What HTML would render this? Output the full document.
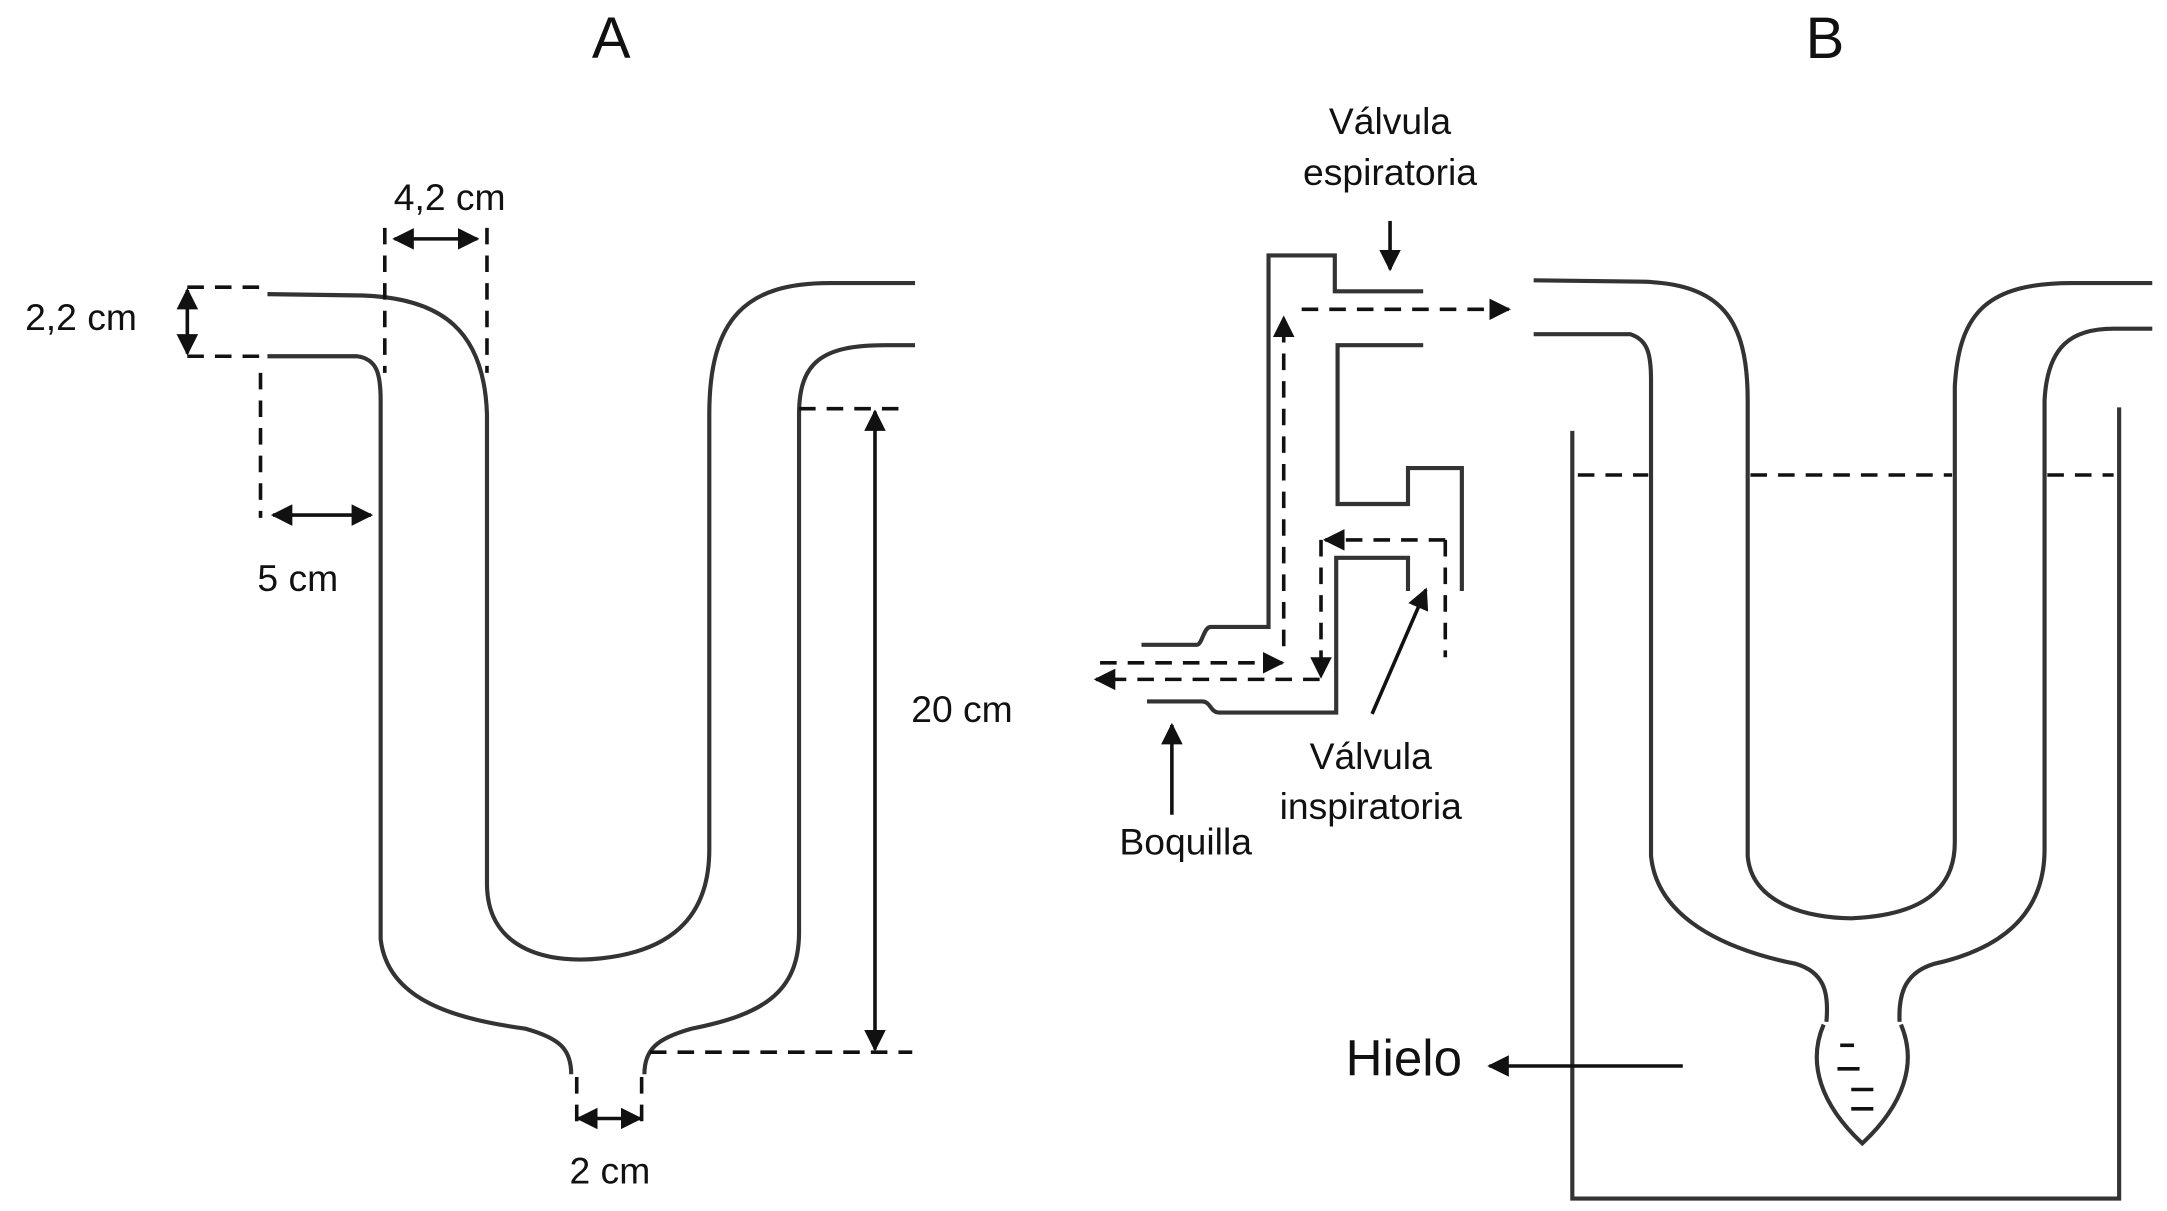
<!DOCTYPE html>
<html><head><meta charset="utf-8"><style>html,body{margin:0;padding:0;background:#fff}svg{display:block}</style></head>
<body>
<svg width="2167" height="1211" viewBox="0 0 1568 877" xmlns="http://www.w3.org/2000/svg" font-family="Liberation Sans, sans-serif">
<defs>
<marker id="ah" viewBox="0 0 10 10" refX="9" refY="5" markerWidth="6" markerHeight="6" orient="auto-start-reverse"><path d="M0,0 L10,5 L0,10 z" fill="#111"/></marker>
</defs>
<g fill="none" stroke="#333" stroke-width="3">
<path d="M193,213 L262,214 C320,216 350,240 352,300 L352,640 C352,690 400,698 435,694 C490,688 513,660 513,615 L513,300 C513,230 540,205 600,205 L662,205"/>
<path d="M193,258 L258,258 C272,260 275,270 275,290 L275,680 C280,725 330,738 380,745 C405,752 413,760 413,778"/>
<path d="M466,778 C466,760 475,752 500,745 C550,735 578,720 578,675 L578,300 C578,262 595,250 640,250 L662,250"/>
<path d="M1110,203 L1190,204 C1245,206 1265,230 1265,290 L1265,620 C1268,655 1310,665 1340,665 C1390,663 1415,645 1415,610 L1415,280 C1418,225 1440,205 1500,205 L1558,205"/>
<path d="M1110,242 L1180,242 C1192,246 1195,255 1195,275 L1195,620 C1200,670 1260,690 1300,698 C1320,704 1324,718 1322,740"/>
<path d="M1375,740 C1374,718 1380,704 1400,698 C1445,688 1480,665 1480,615 L1480,290 C1482,250 1500,238 1530,238 L1558,238"/>
<path d="M1320,742 C1308,770 1318,800 1348,828 C1378,800 1388,770 1376,742"/>
<path d="M1138,312 L1138,868 L1534,868 L1534,295"/>
<path d="M826,467 L866,467 C870,467 871,454 876,454 L918,454 L918,185 L966,185 L966,211 L1030,211"/>
<path d="M1030,250 L968,250 L968,365 L1019,365 L1019,339 L1058,339 L1058,428"/>
<path d="M830,508 L870,508 C876,508 876,516 882,516 L967,516 L967,404 L1019,404 L1019,428"/>
</g>
<g stroke="#111" stroke-width="2.6" fill="none" stroke-dasharray="12,8">
<line x1="135" y1="208" x2="193" y2="208"/><line x1="135" y1="258" x2="193" y2="258"/>
<line x1="278" y1="165" x2="278" y2="270"/><line x1="352" y1="165" x2="352" y2="270"/>
<line x1="188" y1="270" x2="188" y2="375"/>
<line x1="578" y1="296" x2="655" y2="296"/><line x1="470" y1="762" x2="660" y2="762"/>
<line x1="417" y1="780" x2="417" y2="820"/><line x1="464" y1="780" x2="464" y2="820"/>
<line x1="1142" y1="344" x2="1193" y2="344"/><line x1="1267" y1="344" x2="1413" y2="344"/><line x1="1482" y1="344" x2="1530" y2="344"/>
<line x1="929" y1="468" x2="929" y2="230" marker-end="url(#ah)"/>
<line x1="942" y1="224" x2="1092" y2="224" marker-end="url(#ah)"/>
<line x1="796" y1="480" x2="928" y2="480" marker-end="url(#ah)"/>
<line x1="955" y1="492" x2="793" y2="492" marker-end="url(#ah)"/>
<line x1="956" y1="391" x2="956" y2="490" marker-end="url(#ah)"/>
<line x1="1046" y1="391" x2="959" y2="391" marker-end="url(#ah)"/>
<line x1="1046" y1="391" x2="1046" y2="476"/>
</g>
<g stroke="#111" stroke-width="2.6" fill="none">
<line x1="135" y1="210" x2="135" y2="256" marker-start="url(#ah)" marker-end="url(#ah)"/>
<line x1="285" y1="173" x2="345" y2="173" marker-start="url(#ah)" marker-end="url(#ah)"/>
<line x1="197" y1="373" x2="268" y2="373" marker-start="url(#ah)" marker-end="url(#ah)"/>
<line x1="633" y1="298" x2="633" y2="760" marker-start="url(#ah)" marker-end="url(#ah)"/>
<line x1="418" y1="810" x2="463" y2="810" marker-start="url(#ah)" marker-end="url(#ah)"/>
<line x1="1218" y1="772" x2="1078" y2="772" marker-end="url(#ah)"/>
<line x1="848" y1="590" x2="848" y2="525" marker-end="url(#ah)"/>
<line x1="1006" y1="160" x2="1006" y2="195" marker-end="url(#ah)"/>
<line x1="993" y1="517" x2="1032" y2="427" marker-end="url(#ah)"/>
<line x1="1332" y1="757" x2="1342" y2="757"/><line x1="1330" y1="774" x2="1346" y2="774"/>
<line x1="1340" y1="789" x2="1356" y2="789"/><line x1="1340" y1="803" x2="1356" y2="803"/>
</g>
<g fill="#111" font-size="27" text-anchor="middle">
<text x="442" y="42" font-size="42">A</text>
<text x="1321" y="42" font-size="42">B</text>
<text x="58" y="239">2,2 cm</text>
<text x="325" y="152">4,2 cm</text>
<text x="215" y="428">5 cm</text>
<text x="696" y="523">20 cm</text>
<text x="441" y="857">2 cm</text>
<text x="1006" y="97">Válvula</text>
<text x="1006" y="134">espiratoria</text>
<text x="992" y="557">Válvula</text>
<text x="992" y="593">inspiratoria</text>
<text x="858" y="619">Boquilla</text>
<text x="1016" y="779" font-size="37">Hielo</text>
</g>
</svg>
</body></html>
